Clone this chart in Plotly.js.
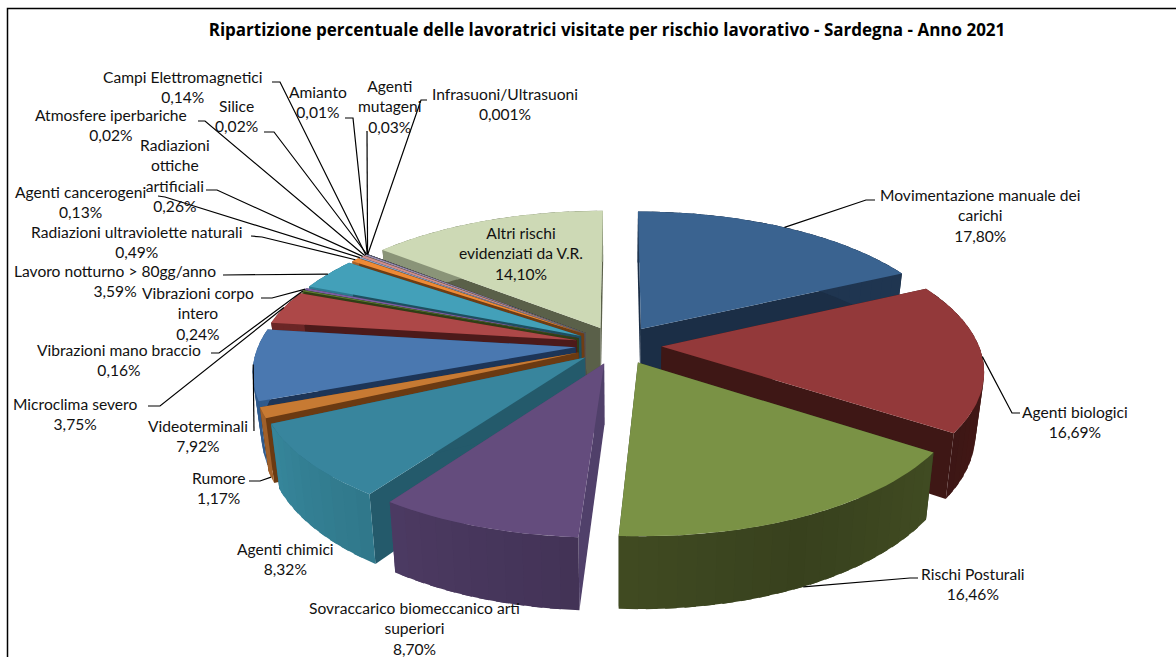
<!DOCTYPE html>
<html>
<head>
<meta charset="utf-8">
<script src="https://cdn.plot.ly/plotly-3.0.1.min.js"></script>
<style>html,body{margin:0;padding:0;background:#fff}#chart{width:1176px;height:657px}</style>
</head>
<body>
<div id="chart"></div>
<script>
// Shares of visited workers per occupational risk, clockwise from 12 o'clock
const categories = [
  "Movimentazione manuale dei<br>carichi", "Agenti biologici", "Rischi Posturali",
  "Sovraccarico biomeccanico arti<br>superiori", "Agenti chimici", "Rumore", "Videoterminali",
  "Microclima severo", "Vibrazioni mano braccio", "Vibrazioni corpo<br>intero",
  "Lavoro notturno &gt; 80gg/anno", "Radiazioni ultraviolette naturali", "Agenti cancerogeni",
  "Radiazioni<br>ottiche<br>artificiali", "Atmosfere iperbariche", "Campi Elettromagnetici",
  "Silice", "Amianto", "Agenti<br>mutageni", "Infrasuoni/Ultrasuoni",
  "Altri rischi<br>evidenziati da V.R."
];
const values = [17.80, 16.69, 16.46, 8.70, 8.32, 1.17, 7.92, 3.75, 0.16, 0.24, 3.59, 0.49,
                0.13, 0.26, 0.02, 0.14, 0.02, 0.01, 0.03, 0.001, 14.10];

// Slice colours: top face, radial side faces, outer wall at its lightest
const topColors = ["#3a6390","#93393a","#7a9245","#644c7d","#38859d","#c77a33","#4a78b0","#ad4848",
  "#5f7f30","#7a5fa0","#43a0b9","#ee8a35","#8aa6cf","#cf8d8c","#b5c98c","#a692c4","#86c3d6",
  "#f3ac78","#4a6f9e","#a04a48","#cdd9b5"];
const sideColors = ["#1b2e46","#3e1715","#2f381a","#50406a","#245a6b","#6b3a12","#1d3557","#4c1a1a",
  "#2f3f16","#3a2c4c","#1d4f5f","#6e3d14","#46566c","#6a4443","#5a6447","#514662","#42606a",
  "#7a5638","#243650","#502422","#5a6049"];
const wallColors = ["#1f3550","#4d1c1a","#525f2b","#55416e","#36869b","#a0602a","#2f5a8c","#6b2626",
  "#42581f","#503c6c","#2d7a90","#a8622a","#607898","#94605f","#7c8a60","#736488","#5c8a98",
  "#a87850","#324c70","#6e3230","#8a9478"];

// Label placement: text centre, and the elbow of the leader line next to the text
const labelCentres = [[980,215],[1075,422],[973,584],[414,628],[285,559],[218,488],[198,436],
  [75,414],[119,360],[198,313],[115,281],[136,242],[80,202],[175,175],[111,125],[182,87],
  [236,116],[318,102],[390,106],[505,104],[521,253]];
const leaderStarts = [
  [[875,200],[866,200]], [[1020,413],[1012,413]], [[918,578],[910,578]], null, null,
  [[249,481],[260,481]], [[254,431]], [[148,406],[160,406]], [[211,353],[219,353]],
  [[261,298],[272,298]], [[223,275]], [[251,236],[262,237]], [[158,196],[165,197]],
  [[206,190],[217,190]], [[198,121],[205,121]], [[272,82],[280,82]], [[264,132],[274,132]],
  [[345,118],[353,118]], [[367,131]], [[427,100],[421,100]], null
];
// Outer-wall anchored leaders end at the foot of the wall instead of the top rim
const wallFootLeaders = new Set([2, 5]);

// Exploded pie seen in perspective
const CX = 618.5, CY = 345, R = 317, TILT = 0.4435, PERSP = 0.1566;
const EXPLODE = 0.136, DEPTH = 60, FOOT_SHRINK = 0.976;

function project(gx, gy, foot) {
  const s = 1 / (1 - gy * PERSP);
  let sx = R * gx * s, sy = R * TILT * gy * s;
  if (foot) { sx *= FOOT_SHRINK; sy += DEPTH * s; }
  return [CX + sx, CY + sy];
}
const total = values.reduce((a, b) => a + b, 0);
let cum = 0;
const slices = values.map((v, i) => {
  const a0 = cum / total * 2 * Math.PI;
  cum += v;
  const a1 = cum / total * 2 * Math.PI;
  const mid = (a0 + a1) / 2;
  return { i, a0, a1, mid, ox: EXPLODE * Math.sin(mid), oy: -EXPLODE * Math.cos(mid) };
});
const rim = (sl, a, foot) => project(sl.ox + Math.sin(a), sl.oy - Math.cos(a), foot);
const apex = (sl, foot) => project(sl.ox, sl.oy, foot);

function shade(hex, f) {
  const n = parseInt(hex.slice(1), 16);
  const c = [n >> 16, (n >> 8) & 255, n & 255].map(x => Math.round(x * f));
  return "rgb(" + c.join(",") + ")";
}
function wallShade(a) {
  const deg = a * 180 / Math.PI;
  return 0.68 + 0.32 * Math.min(1, Math.abs(deg - 155) / 90);
}
function poly(pts, color) {
  return {
    type: "scatter", mode: "lines", fill: "toself", fillcolor: color,
    x: pts.map(p => p[0]), y: pts.map(p => p[1]),
    line: { color: color, width: 0 }, hoverinfo: "skip", showlegend: false
  };
}

const traces = [];
// Far slices first so that nearer ones paint over them
slices.slice().sort((p, q) => p.oy - q.oy).forEach(sl => {
  const k = sl.i;
  // radial side faces
  [sl.a0, sl.a1].forEach(a => {
    traces.push(poly([apex(sl, false), rim(sl, a, false), rim(sl, a, true), apex(sl, true)], sideColors[k]));
  });
  // outer wall as narrow shaded strips, each overlapping its neighbour so no seams show
  const strips = Math.max(1, Math.ceil((sl.a1 - sl.a0) / (Math.PI / 60)));
  const step = (sl.a1 - sl.a0) / strips;
  for (let n = 0; n < strips; n++) {
    const u = sl.a0 + step * n;
    const w = Math.min(sl.a1, u + step * 1.6);
    traces.push(poly([rim(sl, u, false), rim(sl, u + step / 2, false), rim(sl, w, false),
                      rim(sl, w, true), rim(sl, u + step / 2, true), rim(sl, u, true)],
      shade(wallColors[k], wallShade(u + step / 2))));
  }
  // top face
  const top = [apex(sl, false)];
  const steps = Math.max(2, Math.ceil((sl.a1 - sl.a0) / (Math.PI / 90)));
  for (let n = 0; n <= steps; n++) top.push(rim(sl, sl.a0 + (sl.a1 - sl.a0) * n / steps, false));
  traces.push(poly(top, topColors[k]));
});

// Leader lines run from the label elbow to the slice they describe
slices.forEach(sl => {
  const start = leaderStarts[sl.i];
  if (!start) return;
  const end = rim(sl, sl.mid, wallFootLeaders.has(sl.i));
  const pts = start.concat([end]);
  traces.push({
    type: "scatter", mode: "lines", x: pts.map(p => p[0]), y: pts.map(p => p[1]),
    line: { color: "#000", width: 1.2 }, hoverinfo: "skip", showlegend: false
  });
});

const fmt = v => (v < 0.01 ? v.toFixed(3) : v.toFixed(2)).replace(".", ",") + "%";
const annotations = categories.map((c, i) => ({
  x: labelCentres[i][0], y: labelCentres[i][1], xref: "x", yref: "y",
  text: c + "<br>" + fmt(values[i]), showarrow: false,
  xanchor: "center", yanchor: "middle", align: "center",
  font: { family: "Lato, 'Open Sans', sans-serif", size: 15.6, color: "#111" }
}));

const layout = {
  width: 1176, height: 657, autosize: false,
  margin: { l: 0, r: 0, t: 0, b: 0 },
  paper_bgcolor: "#fff", plot_bgcolor: "#fff", showlegend: false,
  title: {
    text: "<b>Ripartizione percentuale delle lavoratrici visitate per rischio lavorativo - Sardegna - Anno 2021</b>",
    x: 607 / 1176, xanchor: "center", y: 1 - 30 / 657, yanchor: "middle",
    font: { family: "'Open Sans', Lato, sans-serif", size: 17, color: "#000" }
  },
  xaxis: { range: [0, 1176], visible: false, fixedrange: true },
  yaxis: { range: [657, 0], visible: false, fixedrange: true },
  annotations: annotations,
  shapes: [{
    type: "rect", xref: "x", yref: "y", x0: 7.5, y0: 8.5, x1: 1200, y1: 700,
    line: { color: "#000", width: 1.5 }, layer: "below"
  }]
};
Plotly.newPlot("chart", traces, layout, { displayModeBar: false, staticPlot: true });
</script>
</body>
</html>
